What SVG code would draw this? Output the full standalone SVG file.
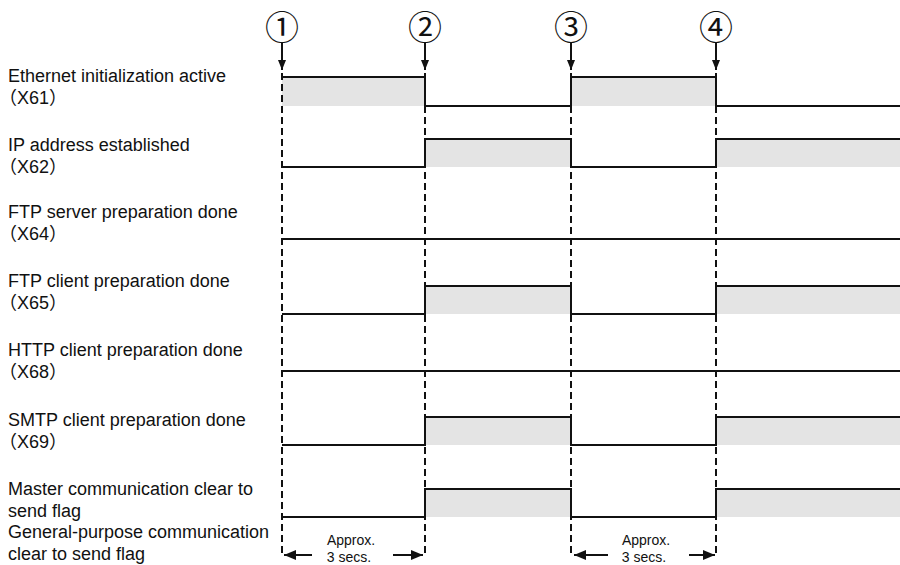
<svg xmlns="http://www.w3.org/2000/svg" width="900" height="565" viewBox="0 0 900 565">
<style>
.lbl{font-family:"Liberation Sans","Noto Sans CJK JP",Arial,sans-serif;font-size:18px;fill:#111}
.num{font-family:"Noto Sans CJK JP","DejaVu Sans",sans-serif;font-size:34px;fill:#111;text-anchor:middle}
.dim{font-family:"Liberation Sans",Arial,sans-serif;font-size:14px;fill:#111;text-anchor:middle}
.sig{fill:none;stroke:#111;stroke-width:2}
.shade{fill:#e4e4e4;stroke:none}
.guide{fill:none;stroke:#111;stroke-width:2;stroke-dasharray:7 4}
.arr{fill:none;stroke:#111;stroke-width:2}
</style>
<defs>
<marker id="ah" viewBox="0 0 10 8" refX="10" refY="4" markerWidth="10" markerHeight="8" markerUnits="userSpaceOnUse" orient="auto">
<path d="M0,0 L10,4 L0,8 z" fill="#111"/>
</marker>
<marker id="ahd" viewBox="0 0 12 10" refX="12" refY="5" markerWidth="12" markerHeight="10" markerUnits="userSpaceOnUse" orient="auto">
<path d="M0,0 L12,5 L0,10 z" fill="#111"/>
</marker>
</defs>
<rect width="900" height="565" fill="#fff"/>

<g id="row-x61">
<rect class="shade" x="282" y="77" width="143" height="29"/>
<rect class="shade" x="571" y="77" width="145" height="29"/>
<path class="sig" d="M282,77 H425 V106 H571 V77 H716 V106 H900"/>
<text class="lbl" x="8" y="82">Ethernet initialization active</text>
<text class="lbl" x="-1" y="104">（X61）</text>
</g>

<g id="row-x62">
<rect class="shade" x="425" y="139" width="146" height="28"/>
<rect class="shade" x="716" y="139" width="184" height="28"/>
<path class="sig" d="M282,167 H425 V139 H571 V167 H716 V139 H900"/>
<text class="lbl" x="8" y="151">IP address established</text>
<text class="lbl" x="-1" y="173">（X62）</text>
</g>

<g id="row-x64">
<path class="sig" d="M282,239 H900"/>
<text class="lbl" x="8" y="218">FTP server preparation done</text>
<text class="lbl" x="-1" y="240">（X64）</text>
</g>

<g id="row-x65">
<rect class="shade" x="425" y="286" width="146" height="28"/>
<rect class="shade" x="716" y="286" width="184" height="28"/>
<path class="sig" d="M282,314 H425 V286 H571 V314 H716 V286 H900"/>
<text class="lbl" x="8" y="287">FTP client preparation done</text>
<text class="lbl" x="-1" y="309">（X65）</text>
</g>

<g id="row-x68">
<path class="sig" d="M282,371 H900"/>
<text class="lbl" x="8" y="356">HTTP client preparation done</text>
<text class="lbl" x="-1" y="378">（X68）</text>
</g>

<g id="row-x69">
<rect class="shade" x="425" y="417" width="146" height="28"/>
<rect class="shade" x="716" y="417" width="184" height="28"/>
<path class="sig" d="M282,445 H425 V417 H571 V445 H716 V417 H900"/>
<text class="lbl" x="8" y="426">SMTP client preparation done</text>
<text class="lbl" x="-1" y="448">（X69）</text>
</g>

<g id="row-master">
<rect class="shade" x="425" y="489" width="146" height="28"/>
<rect class="shade" x="716" y="489" width="184" height="28"/>
<path class="sig" d="M282,517 H425 V489 H571 V517 H716 V489 H900"/>
<text class="lbl" x="8" y="495">Master communication clear to</text>
<text class="lbl" x="8" y="517">send flag</text>
<text class="lbl" x="8" y="538">General-purpose communication</text>
<text class="lbl" x="8" y="560">clear to send flag</text>
</g>

<g id="markers">
<text class="num" x="282" y="40">①</text>
<text class="num" x="425" y="40">②</text>
<text class="num" x="571" y="40">③</text>
<text class="num" x="716" y="40">④</text>
</g>

<g id="connectors">
<line class="guide" x1="282" y1="73" x2="282" y2="557"/>
<line class="guide" x1="425" y1="73" x2="425" y2="557"/>
<line class="guide" x1="571" y1="73" x2="571" y2="557"/>
<line class="guide" x1="716" y1="73" x2="716" y2="557"/>
<line class="arr" x1="282" y1="43" x2="282" y2="70" marker-end="url(#ah)"/>
<line class="arr" x1="425" y1="43" x2="425" y2="70" marker-end="url(#ah)"/>
<line class="arr" x1="571" y1="43" x2="571" y2="70" marker-end="url(#ah)"/>
<line class="arr" x1="716" y1="43" x2="716" y2="70" marker-end="url(#ah)"/>
<line class="arr" x1="312" y1="555" x2="284" y2="555" marker-end="url(#ahd)"/>
<line class="arr" x1="393" y1="555" x2="423" y2="555" marker-end="url(#ahd)"/>
<line class="arr" x1="608" y1="555" x2="574" y2="555" marker-end="url(#ahd)"/>
<line class="arr" x1="689" y1="555" x2="715" y2="555" marker-end="url(#ahd)"/>
</g>

<g id="dim-labels">
<text class="dim" x="351" y="545">Approx.</text>
<text class="dim" x="349" y="562">3 secs.</text>
<text class="dim" x="646" y="545">Approx.</text>
<text class="dim" x="644" y="562">3 secs.</text>
</g>
</svg>
